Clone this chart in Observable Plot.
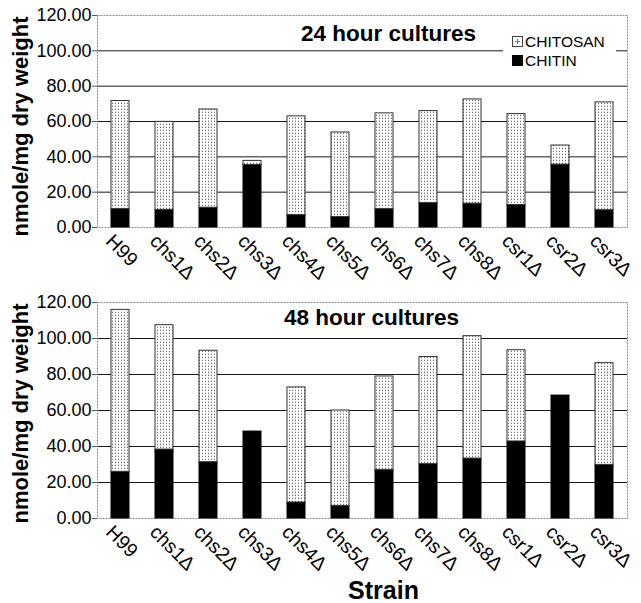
<!DOCTYPE html>
<html>
<head>
<meta charset="utf-8">
<script src="https://cdn.jsdelivr.net/npm/d3@7"></script>
<script src="https://cdn.jsdelivr.net/npm/@observablehq/plot@0.6"></script>
<style>
  body { margin: 0; background: #fff; }
  #root { position: relative; width: 641px; height: 603px; background: #fff; font-family: "Liberation Sans", Arial, sans-serif; }
  #root > svg { position: absolute; left: 0; }
  .legend { position: absolute; left: 503px; top: 28px; width: 113px; height: 46px; background: #fff; font-size: 15.5px; color: #000; }
  .legend .row { position: absolute; left: 9px; display: flex; align-items: center; gap: 2px; line-height: 15px; }
</style>
</head>
<body>
<div id="root"></div>
<script>
const strains = ["H99", "chs1Δ", "chs2Δ", "chs3Δ", "chs4Δ", "chs5Δ", "chs6Δ", "chs7Δ", "chs8Δ", "csr1Δ", "csr2Δ", "csr3Δ"];
const chitin24   = [10.4, 10.0, 11.2, 35.4, 7.0, 5.9, 10.4, 13.8, 13.5, 12.7, 35.6, 9.8];
const chitosan24 = [61.2, 49.8, 55.6, 2.3, 55.9, 47.9, 54.2, 52.1, 59.0, 51.5, 10.8, 61.0];
const chitin48   = [25.9, 38.3, 31.3, 48.3, 8.9, 7.0, 27.0, 30.2, 33.3, 42.8, 68.3, 29.8];
const chitosan48 = [90.0, 69.1, 61.9, 0, 63.9, 53.0, 51.9, 59.5, 68.0, 50.7, 0, 56.5];
const yTicks = [0, 20, 40, 60, 80, 100, 120];
const gridValues = [20, 40, 60, 80, 100];
const titles = ["24 hour cultures", "48 hour cultures"];
const yLabel = "nmole/mg dry weight";
const xLabel = "Strain";
const seriesNames = ["CHITOSAN", "CHITIN"];

const FONT = '"Liberation Sans", Arial, sans-serif';

function rows(chitin, chitosan) {
  return strains.map((s, i) => ({strain: s, chitin: chitin[i], chitosan: chitosan[i]}));
}

function addPattern(svg, id) {
  const ns = "http://www.w3.org/2000/svg";
  const defs = document.createElementNS(ns, "defs");
  defs.innerHTML = `<pattern id="${id}" patternUnits="userSpaceOnUse" width="3" height="3">
    <rect width="3" height="3" fill="#ffffff"/>
    <rect x="1" y="1" width="1" height="1" fill="#707070"/>
    <rect x="1" y="0" width="1" height="1" fill="#d4d4d4"/>
  </pattern>`;
  svg.insertBefore(defs, svg.firstChild);
}

function panel(data, opts) {
  const pid = opts.pid;
  const svg = Plot.plot({
    width: 641,
    height: opts.height,
    marginTop: opts.mt,
    marginBottom: opts.mb,
    marginLeft: 97,
    marginRight: 14,
    style: {fontFamily: FONT, color: "#000", background: "transparent", overflow: "visible"},
    x: {domain: strains, paddingInner: 0.6, paddingOuter: 0.3, axis: null},
    y: {domain: [0, 120], axis: null},
    marks: [
      Plot.ruleY(gridValues, {stroke: "#1a1a1a", strokeWidth: 1}),
      Plot.frame({stroke: "#8a8a8a", strokeDasharray: "2,1"}),
      Plot.axisY({ticks: yTicks, tickFormat: d3.format(".2f"), tickSize: 5, tickPadding: 1, fontSize: 18, label: null, stroke: "#555"}),
      Plot.barY(data, {x: "strain", y1: 0, y2: "chitin", fill: "#000", stroke: "#000", strokeWidth: 1}),
      Plot.barY(data.filter(d => d.chitosan > 0), {x: "strain", y1: "chitin", y2: d => d.chitin + d.chitosan, fill: `url(#${pid})`, stroke: "#333", strokeWidth: 1}),
      Plot.text(strains, {x: d => d, frameAnchor: "bottom", rotate: 45, textAnchor: "start", lineAnchor: "top", dx: -6, dy: 5, fontSize: 19.5}),
      Plot.text([opts.title], {frameAnchor: "top", lineAnchor: "bottom", dx: opts.titleDx, dy: opts.titleDy, fontSize: 22.5, fontWeight: "bold"}),
      Plot.text([yLabel], {frameAnchor: "left", rotate: -90, textAnchor: "middle", lineAnchor: "middle", dx: -77, dy: opts.yLabelDy, fontSize: 22, fontWeight: "bold"}),
      ...(opts.xLabel ? [Plot.text([opts.xLabel], {frameAnchor: "bottom", lineAnchor: "bottom", dx: 21, dy: 80, fontSize: 25, fontWeight: "bold"})] : [])
    ]
  });
  addPattern(svg, pid);
  return svg;
}

const root = document.getElementById("root");

const topPanel = panel(rows(chitin24, chitosan24), {pid: "stip24", height: 290, mt: 15, mb: 63, title: titles[0], titleDx: 26, titleDy: 25, yLabelDy: 5});
topPanel.style.top = "0px";
root.appendChild(topPanel);

const bottomPanel = panel(rows(chitin48, chitosan48), {pid: "stip48", height: 313, mt: 12, mb: 85, title: titles[1], titleDx: 9, titleDy: 22, yLabelDy: 3, xLabel: xLabel});
bottomPanel.style.top = "290px";
root.appendChild(bottomPanel);

// legend (top panel)
const legend = document.createElement("div");
legend.className = "legend";
legend.innerHTML = `
  <div class="row" style="top:6px"><svg width="11" height="11"><rect x="0.5" y="0.5" width="10" height="10" fill="#fff" stroke="#444"/><path d="M5.5 3v5M3 5.5h5" stroke="#777"/></svg><span>${seriesNames[0]}</span></div>
  <div class="row" style="top:25px"><svg width="11" height="11"><rect x="0" y="0" width="11" height="11" fill="#000"/></svg><span>${seriesNames[1]}</span></div>`;
root.appendChild(legend);
</script>
</body>
</html>
